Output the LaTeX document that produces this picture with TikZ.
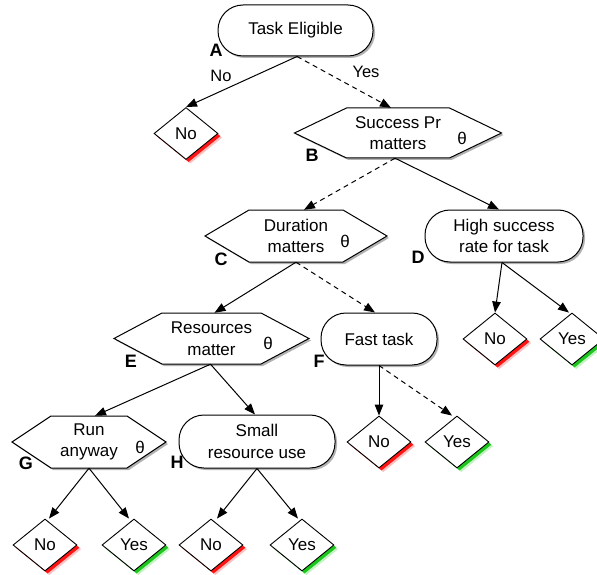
\documentclass[tikz,border=0pt]{standalone}
\usepackage{fontspec}
\setmainfont{Liberation Sans}
\usetikzlibrary{shapes.geometric,shadows,arrows.meta,calc}
\tikzset{
  base/.style={font=\fontsize{17}{21.5}\selectfont, align=center, inner sep=0pt},
  grayshadow/.style={drop shadow={shadow xshift=2pt,shadow yshift=-2pt,opacity=.3,fill=black}},
  term/.style={base, draw, fill=white, line width=1pt, rounded corners=25pt, minimum height=52pt, grayshadow},
  hexa/.style={draw, fill=white, line width=1pt, grayshadow},
  hextext/.style={base, minimum height=52pt},
  leaf/.style={base, diamond, draw, fill=white, line width=0.9pt, minimum width=64pt, minimum height=52pt},
  noleaf/.style={leaf,
    drop shadow={shadow xshift=4.2pt,shadow yshift=-4.2pt,fill=red,opacity=.25},
    drop shadow={shadow xshift=2.6pt,shadow yshift=-2.6pt,fill=red,opacity=.9}},
  yesleaf/.style={leaf,
    drop shadow={shadow xshift=4.2pt,shadow yshift=-4.2pt,fill=green!80!black,opacity=.25},
    drop shadow={shadow xshift=2.6pt,shadow yshift=-2.6pt,fill=green!75!black,opacity=.85}},
  tag/.style={font=\fontsize{18}{18}\selectfont\bfseries, inner sep=0pt},
  conn/.style={-{Triangle[length=11pt,width=8.5pt]}, line width=1pt},
  dconn/.style={conn, dash pattern=on 5pt off 4pt},
  elabel/.style={font=\fontsize{16.5}{16.5}\selectfont, inner sep=0pt},
  thetalbl/.style={font=\fontsize{17}{17}\selectfont, inner sep=0pt},
}
% name, cx, cy, half width, slant, half height, theta offset, text
\newcommand\hexnode[8]{%
  \path[hexa] (#2-#4,#3) -- (#2-#4+#5,#3-#6) -- (#2+#4-#5,#3-#6) -- (#2+#4,#3)
     -- (#2+#4-#5,#3+#6) -- (#2-#4+#5,#3+#6) -- cycle;
  \node[hextext, minimum width=2*#4, minimum height=2*#6] (#1) at (#2,#3) {#8};
  \node[thetalbl] (#1theta) at (#2+#7,#3+5) {θ};
}
\begin{document}
\begin{tikzpicture}[x=1pt,y=-1pt]
\useasboundingbox (0,0) rectangle (597,575);

% decision nodes
\node[term, minimum width=155pt, minimum height=51pt] (A) at (295.5,30.5) {Task Eligible};
\hexnode{B}{398}{133}{103.5}{52}{25}{64}{Success Pr\\matters}
\hexnode{C}{296}{236}{91}{44}{26}{49}{Duration\\matters}
\node[term, minimum width=158pt] (D) at (504,236) {High success\\rate for task};
\hexnode{E}{211.5}{338.5}{97.5}{48}{25.5}{56.5}{Resources\\matter}
\node[term, minimum width=116pt] (F) at (379,339) {Fast task};
\hexnode{G}{89}{442}{77}{39}{26}{51}{Run\\anyway}
\node[term, minimum width=156pt, minimum height=53pt] (H) at (257,441.5) {Small\\resource use};

% leaves
\node[noleaf] (noA) at (186,133.5) {No};
\node[noleaf] (noD) at (495,339) {No};
\node[yesleaf] (yesD) at (572,339) {Yes};
\node[noleaf] (noF) at (379,442) {No};
\node[yesleaf] (yesF) at (457,442) {Yes};
\node[noleaf] (noG) at (45,545) {No};
\node[yesleaf] (yesG) at (134,545) {Yes};
\node[noleaf] (noH) at (211,545) {No};
\node[yesleaf] (yesH) at (302,545) {Yes};

% tags
\node[tag] (tA) at (216,50) {A};
\node[tag] (tB) at (312,155) {B};
\node[tag] (tC) at (221,259) {C};
\node[tag] (tD) at (418,257) {D};
\node[tag] (tE) at (131,361) {E};
\node[tag] (tF) at (319,361) {F};
\node[tag] (tG) at (26,463) {G};
\node[tag] (tH) at (177,462) {H};

% connectors
\draw[conn] ([xshift=1.5pt]A.south) -- (noA.north);
\draw[dconn] ([xshift=1.5pt]A.south) -- ([xshift=-7pt]B.north);
\node[elabel] (lno) at (221,76) {No};
\node[elabel] (lyes) at (366,72) {Yes};
\draw[dconn] ([xshift=-3pt]B.south) -- ([xshift=8pt]C.north);
\draw[conn] ([xshift=-3pt]B.south) -- ([xshift=-5pt]D.north);
\draw[conn] (C.south) -- ([xshift=3pt]E.north);
\draw[dconn] (C.south) -- ([xshift=-4pt]F.north);
\draw[conn] ([xshift=-2pt]D.south) -- (noD.north);
\draw[conn] ([xshift=-2pt]D.south) -- ([xshift=-3pt]yesD.north);
\draw[conn] ([xshift=-1pt]E.south) -- ([xshift=6pt]G.north);
\draw[conn] ([xshift=-1pt]E.south) -- ([xshift=-2pt]H.north);
\draw[conn] (F.south) -- (noF.north);
\draw[dconn] (F.south) -- ([xshift=-5pt]yesF.north);
\draw[conn] (G.south) -- ([xshift=4pt]noG.north);
\draw[conn] (G.south) -- ([xshift=-5pt]yesG.north);
\draw[conn] (H.south) -- ([xshift=6pt]noH.north);
\draw[conn] (H.south) -- ([xshift=-4pt]yesH.north);
\end{tikzpicture}
\end{document}
